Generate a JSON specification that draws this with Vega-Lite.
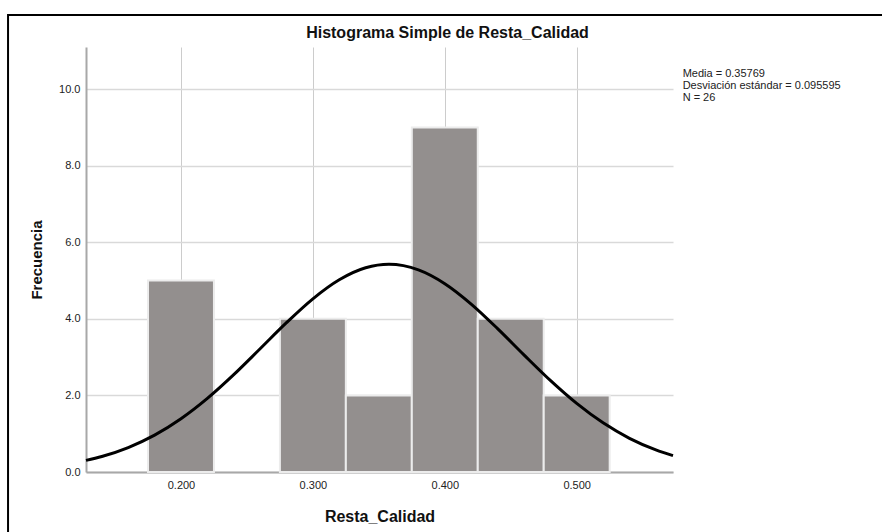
{
  "$schema": "https://vega.github.io/schema/vega-lite/v6.json",
  "width": 587,
  "height": 425,
  "autosize": {"type": "none"},
  "padding": {"left": 86, "top": 47, "right": 209, "bottom": 60},
  "background": "white",
  "config": {
    "font": "Liberation Sans",
    "view": {"stroke": null},
    "axis": {"labelFont": "Liberation Sans", "titleFont": "Liberation Sans", "labelColor": "#222222", "titleColor": "#111111"}
  },
  "title": {
    "text": "Histograma Simple de Resta_Calidad",
    "fontSize": 16,
    "fontWeight": "bold",
    "font": "Liberation Sans",
    "color": "#111111",
    "anchor": "middle",
    "frame": "group",
    "dx": 68,
    "offset": -27
  },
  "datasets": {
    "bins": [
      {"bin_start": 0.175, "bin_end": 0.225, "count": 5},
      {"bin_start": 0.275, "bin_end": 0.325, "count": 4},
      {"bin_start": 0.325, "bin_end": 0.375, "count": 2},
      {"bin_start": 0.375, "bin_end": 0.425, "count": 9},
      {"bin_start": 0.425, "bin_end": 0.475, "count": 4},
      {"bin_start": 0.475, "bin_end": 0.525, "count": 2}
    ],
    "curve": [
      {"x": 0.128, "y": 0.3026},
      {"x": 0.14, "y": 0.4059},
      {"x": 0.16, "y": 0.6394},
      {"x": 0.18, "y": 0.9641},
      {"x": 0.20, "y": 1.3917},
      {"x": 0.22, "y": 1.9228},
      {"x": 0.24, "y": 2.5427},
      {"x": 0.26, "y": 3.2185},
      {"x": 0.28, "y": 3.8994},
      {"x": 0.30, "y": 4.5220},
      {"x": 0.32, "y": 5.0194},
      {"x": 0.34, "y": 5.3331},
      {"x": 0.35769, "y": 5.4252},
      {"x": 0.38, "y": 5.2794},
      {"x": 0.40, "y": 4.9190},
      {"x": 0.42, "y": 4.3870},
      {"x": 0.44, "y": 3.7447},
      {"x": 0.46, "y": 3.0598},
      {"x": 0.48, "y": 2.3929},
      {"x": 0.50, "y": 1.7914},
      {"x": 0.52, "y": 1.2837},
      {"x": 0.54, "y": 0.8804},
      {"x": 0.56, "y": 0.5780},
      {"x": 0.573, "y": 0.4294}
    ],
    "stats": [
      {"label": "Media = 0.35769\nDesviación estándar = 0.095595\nN = 26"}
    ],
    "frame": [{"k": 1}]
  },
  "layer": [
    {
      "data": {"name": "bins"},
      "mark": {"type": "rect", "color": "#938f8e", "stroke": "#ececec", "strokeWidth": 2},
      "encoding": {
        "x": {
          "field": "bin_start",
          "type": "quantitative",
          "scale": {"domain": [0.128, 0.573], "nice": false, "zero": false},
          "axis": {
            "values": [0.2, 0.3, 0.4, 0.5],
            "format": ".3f",
            "title": "Resta_Calidad",
            "titleFontSize": 16,
            "titleFontWeight": "bold",
            "titlePadding": 18,
            "labelFontSize": 11,
            "labelPadding": 7,
            "ticks": false,
            "tickSize": 0,
            "domainColor": "#a8a8a8",
            "domainWidth": 2,
            "gridColor": "#cccccc",
            "gridWidth": 1
          }
        },
        "x2": {"field": "bin_end"},
        "y": {
          "field": "count",
          "type": "quantitative",
          "scale": {"domain": [0, 11.1], "nice": false},
          "axis": {
            "values": [0, 2, 4, 6, 8, 10],
            "format": ".1f",
            "title": "Frecuencia",
            "titleFontSize": 15,
            "titleFontWeight": "bold",
            "titlePadding": 14,
            "labelFontSize": 11,
            "labelPadding": 6,
            "ticks": false,
            "tickSize": 0,
            "domainColor": "#a8a8a8",
            "domainWidth": 2,
            "gridColor": "#d9d9d9",
            "gridWidth": 1.5
          }
        },
        "y2": {"datum": 0}
      }
    },
    {
      "data": {"name": "curve"},
      "mark": {"type": "line", "color": "#000000", "strokeWidth": 3, "interpolate": "monotone"},
      "encoding": {
        "x": {"field": "x", "type": "quantitative"},
        "y": {"field": "y", "type": "quantitative"}
      }
    },
    {
      "data": {"name": "stats"},
      "mark": {"type": "text", "align": "left", "baseline": "middle", "lineBreak": "\n", "fontSize": 11, "lineHeight": 12, "color": "#222222", "font": "Liberation Sans"},
      "encoding": {
        "x": {"datum": 0.5803},
        "y": {"datum": 10.4},
        "text": {"field": "label"}
      }
    },
    {
      "data": {"name": "frame"},
      "mark": {"type": "rect", "fill": null, "filled": false, "stroke": "#000000", "strokeWidth": 2, "clip": false},
      "encoding": {
        "x": {"datum": 0.0689},
        "x2": {"datum": 0.75},
        "y": {"datum": 11.935},
        "y2": {"datum": -3}
      }
    }
  ]
}
